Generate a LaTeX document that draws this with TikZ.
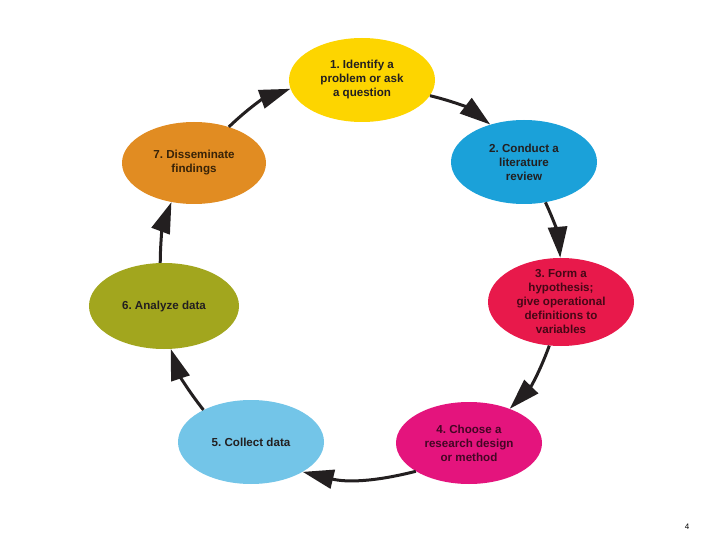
\documentclass[tikz,border=0pt]{standalone}
\usepackage{fontspec}
\setmainfont{Liberation Sans}
\usetikzlibrary{arrows.meta,shapes.geometric}
\definecolor{cyellow}{HTML}{FDD500}
\definecolor{cblue}{HTML}{1BA1D9}
\definecolor{cred}{HTML}{E8194B}
\definecolor{cmag}{HTML}{E4147D}
\definecolor{clblue}{HTML}{73C5E8}
\definecolor{colive}{HTML}{A2A61E}
\definecolor{corange}{HTML}{E18C22}
\definecolor{ctext}{HTML}{231F20}
\frenchspacing
\begin{document}
\begin{tikzpicture}[x=1pt,y=-1pt,
  stage/.style={ellipse, inner sep=0pt, minimum width=146pt, minimum height=84pt},
  lbl/.style={align=center, font=\fontsize{11.6}{14}\selectfont\bfseries, text=ctext},
  arr/.style={line width=3pt, draw=ctext, -{Triangle[length=31pt,width=19pt]}}]
\useasboundingbox[fill=white] (0,0) rectangle (720,540);
\node[stage, fill=cyellow, label={[lbl]center:1. Identify a\\problem or ask\\a question}] (n1) at (362,80) {};
\node[stage, fill=cblue, label={[lbl]center:2. Conduct a\\literature\\review}] (n2) at (524,162) {};
\node[stage, fill=cred, minimum height=88pt, label={[lbl, text=cred!30!black]center:3. Form a\\hypothesis;\\give operational\\definitions to\\variables}] (n3) at (561,302) {};
\node[stage, fill=cmag, minimum height=82pt, label={[lbl, text=cmag!30!black]center:4. Choose a\\research design\\or method}] (n4) at (469,443) {};
\node[stage, fill=clblue, label={[lbl]center:5. Collect data}] (n5) at (251,442) {};
\node[stage, fill=colive, minimum width=150pt, minimum height=86pt, label={[lbl]center:6. Analyze data}] (n6) at (164,306) {};
\node[stage, fill=corange, minimum width=144pt, minimum height=82pt, label={[lbl, text=corange!25!black]center:7. Disseminate\\findings}] (n7) at (194,163) {};
\draw[arr] (n1.-13) to[bend left=12] (n2.132);
\draw[arr] (n2.-62) to[bend left=10] (n3.91);
\draw[arr] (n3.-105) to[bend left=12] (n4.40);
\draw[arr] (n4.-152) to[bend left=14] (n5.-30);
\draw[arr] (n5.146) to[bend left=10] (n6.-81);
\draw[arr] (n6.95) to[bend left=10] (n7.-120);
\draw[arr] (n7.46) to[bend left=12] (n1.-173);
\node[font=\fontsize{8}{10}\selectfont] (pg) at (687,527) {4};
\end{tikzpicture}
\end{document}
